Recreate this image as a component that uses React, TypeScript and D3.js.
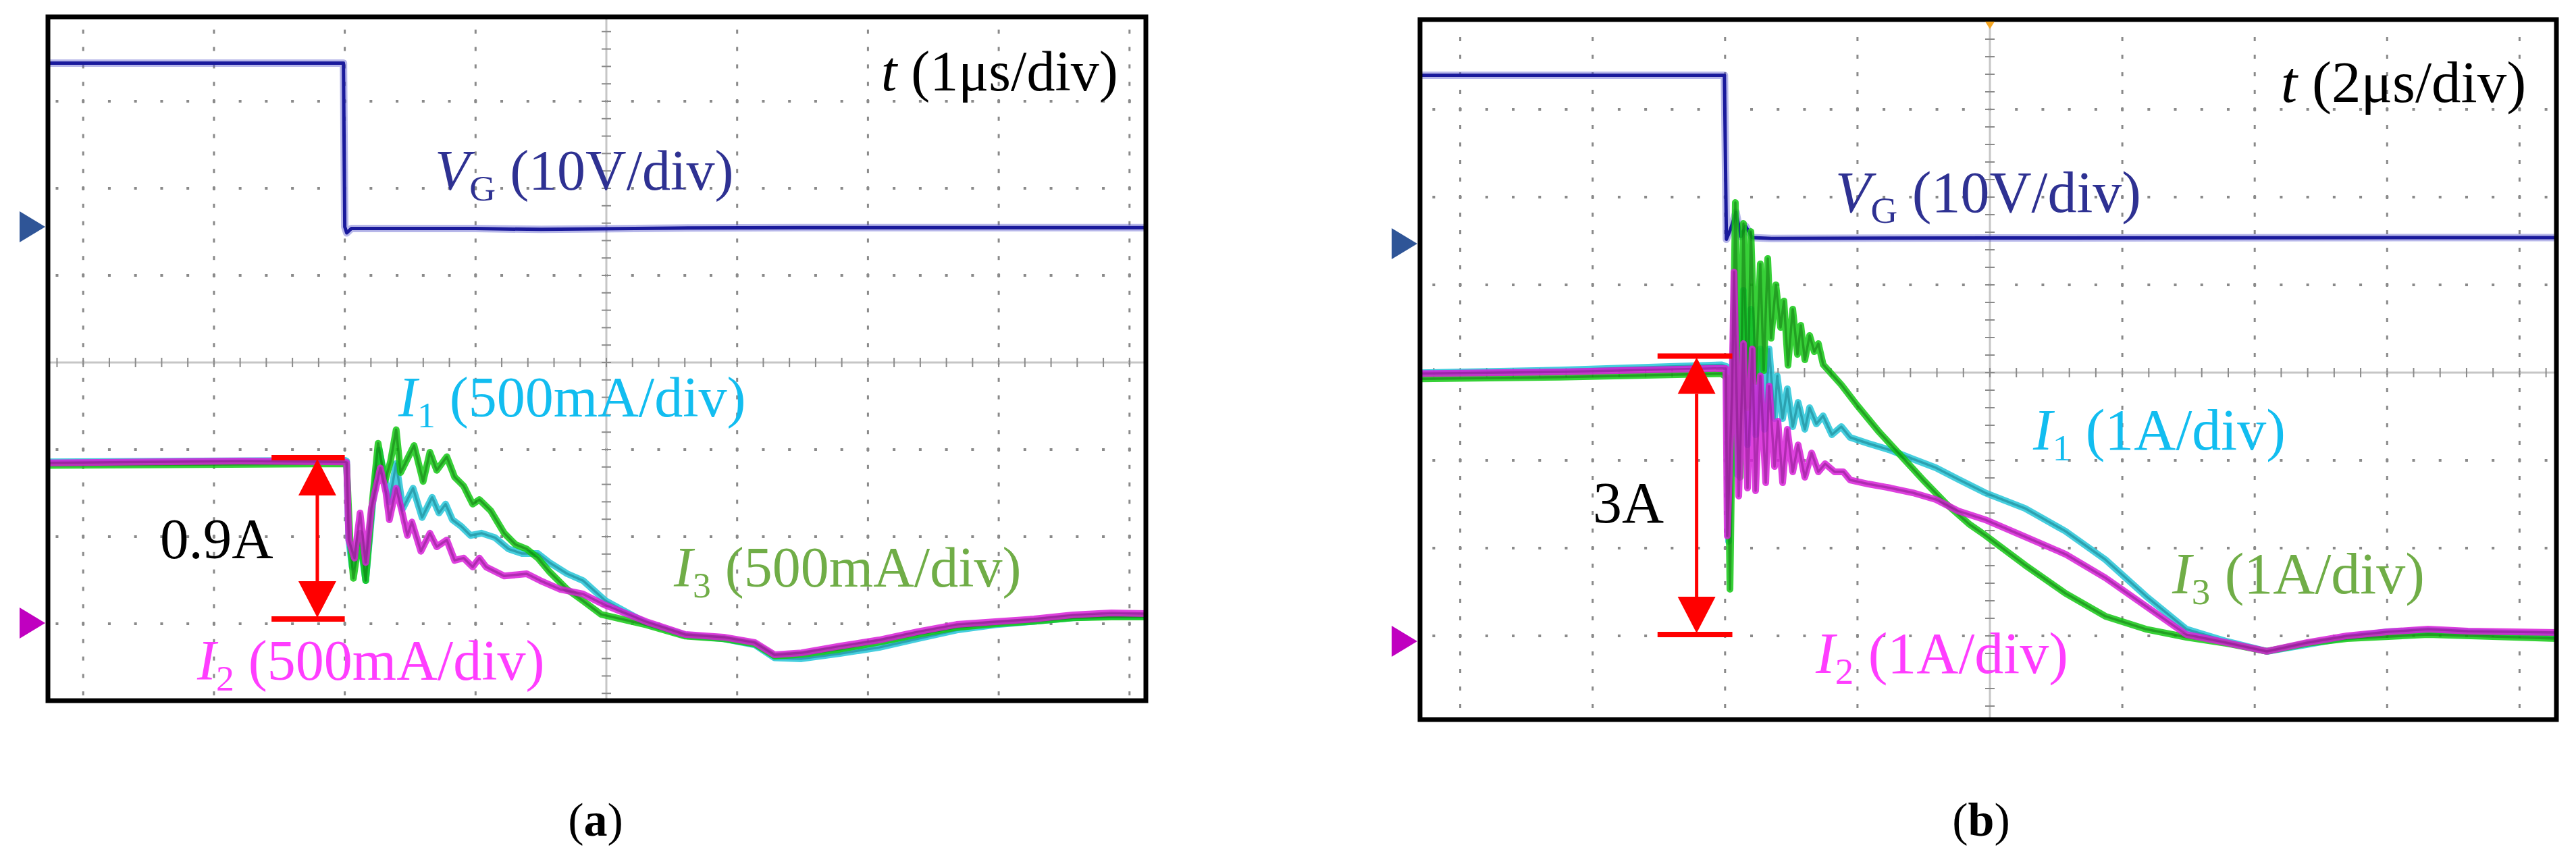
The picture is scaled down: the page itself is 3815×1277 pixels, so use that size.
import React from 'react';
import * as d3 from 'd3';

type Pt = [number, number];

// ---------- panel (a): t 1 µs/div, VG 10 V/div, I 500 mA/div ----------
// [time µs, volts]
const vgA: Pt[] = [
  [-4.27, 18.8], [-2.01, 18.8], [-2.0, 0], [-1.985, -0.7], [-1.95, -0.2],
  [-1.0, -0.2], [-0.5, -0.3], [0.5, -0.15], [1.5, -0.1], [4.13, -0.1],
];
// [time µs, amps]
const i1A: Pt[] = [
  [-4.27, 0.925], [-2.0, 0.935], [-1.986, 0.93], [-1.969, 0.477], [-1.943, 0.322],
  [-1.883, 0.477], [-1.84, 0.244], [-1.78, 0.736], [-1.736, 0.993], [-1.693, 0.826],
  [-1.659, 0.696], [-1.607, 0.916], [-1.556, 0.658], [-1.478, 0.774], [-1.409, 0.606],
  [-1.332, 0.722], [-1.28, 0.632], [-1.229, 0.683], [-1.177, 0.593], [-1.108, 0.554],
  [-1.039, 0.503], [-0.954, 0.516], [-0.85, 0.49], [-0.747, 0.425], [-0.644, 0.399],
  [-0.523, 0.399], [-0.437, 0.348], [-0.299, 0.283], [-0.179, 0.244], [-0.007, 0.128],
  [0.305, 0.0], [0.604, -0.07], [0.898, -0.09], [1.136, -0.125], [1.286, -0.2],
  [1.492, -0.205], [1.786, -0.175], [2.086, -0.14], [2.38, -0.09], [2.679, -0.04],
  [2.974, -0.01], [3.268, 0.01], [3.567, 0.03], [3.862, 0.04], [4.13, 0.04],
];
const i2A: Pt[] = [
  [-4.27, 0.92], [-3.5, 0.925], [-2.8, 0.93], [-2.0, 0.925], [-1.986, 0.922],
  [-1.969, 0.477], [-1.926, 0.373], [-1.883, 0.632], [-1.84, 0.348], [-1.797, 0.658],
  [-1.728, 0.89], [-1.685, 0.748], [-1.659, 0.593], [-1.607, 0.774], [-1.564, 0.645],
  [-1.521, 0.503], [-1.487, 0.58], [-1.418, 0.412], [-1.349, 0.516], [-1.297, 0.438],
  [-1.22, 0.477], [-1.16, 0.36], [-1.091, 0.373], [-1.022, 0.322], [-0.971, 0.373],
  [-0.919, 0.322], [-0.781, 0.27], [-0.609, 0.283], [-0.506, 0.244], [-0.351, 0.193],
  [-0.179, 0.167], [-0.007, 0.102], [0.305, 0.008], [0.604, -0.066], [0.898, -0.081],
  [1.136, -0.112], [1.286, -0.182], [1.492, -0.171], [1.786, -0.132], [2.086, -0.097],
  [2.38, -0.05], [2.679, -0.008], [2.974, 0.008], [3.268, 0.023], [3.567, 0.047],
  [3.862, 0.058], [4.13, 0.054],
];
const i3A: Pt[] = [
  [-4.27, 0.905], [-2.0, 0.915], [-1.986, 0.91], [-1.96, 0.477], [-1.934, 0.257],
  [-1.883, 0.516], [-1.84, 0.244], [-1.788, 0.709], [-1.745, 1.032], [-1.693, 0.813],
  [-1.65, 0.929], [-1.607, 1.11], [-1.573, 0.864], [-1.47, 1.019], [-1.401, 0.813],
  [-1.349, 0.981], [-1.297, 0.877], [-1.22, 0.955], [-1.16, 0.838], [-1.091, 0.787],
  [-1.057, 0.735], [-1.022, 0.683], [-0.971, 0.709], [-0.884, 0.645], [-0.781, 0.516],
  [-0.695, 0.451], [-0.609, 0.425], [-0.523, 0.373], [-0.437, 0.296], [-0.299, 0.193],
  [-0.179, 0.128], [-0.041, 0.05], [0.305, -0.01], [0.604, -0.075], [0.898, -0.09],
  [1.136, -0.12], [1.286, -0.19], [1.492, -0.18], [1.786, -0.15], [2.086, -0.11],
  [2.38, -0.065], [2.679, -0.025], [2.974, -0.005], [3.268, 0.01], [3.567, 0.03],
  [3.862, 0.035], [4.13, 0.035],
];
const stepA: Pt = [0.023, 0.95]; // measured current step, A

// ---------- panel (b): t 2 µs/div, VG 10 V/div, I 1 A/div ----------
const vgB: Pt[] = [
  [-8.61, 19.2], [-4.01, 19.2], [-3.98, 0.5], [-3.92, 1.6], [-3.835, 3.6], [-3.76, 0.8],
  [-3.69, 2.0], [-3.59, 0.7], [-3.3, 0.6], [0, 0.65], [8.56, 0.7],
];
const i1B: Pt[] = [
  [-8.61, 3.06], [-6.5, 3.09], [-4.05, 3.15], [-3.978, 3.131], [-3.947, 1.138],
  [-3.876, 3.392], [-3.815, 1.9], [-3.723, 4.0], [-3.661, 2.238], [-3.61, 3.785],
  [-3.539, 2.354], [-3.468, 3.331], [-3.406, 2.415], [-3.335, 3.331], [-3.253, 2.538],
  [-3.213, 3.023], [-3.131, 2.538], [-3.06, 2.877], [-2.978, 2.446], [-2.897, 2.723],
  [-2.795, 2.415], [-2.723, 2.662], [-2.621, 2.477], [-2.519, 2.569], [-2.387, 2.354],
  [-2.244, 2.446], [-2.111, 2.323], [-1.836, 2.254], [-1.499, 2.177], [-1.163, 2.077],
  [-0.816, 1.977], [-0.479, 1.846], [-0.071, 1.692], [0.53, 1.515], [1.142, 1.254],
  [1.744, 0.931], [2.356, 0.515], [2.968, 0.138], [3.57, 0.0], [4.182, -0.115],
  [4.794, -0.038], [5.395, 0.046], [6.007, 0.108], [6.619, 0.123], [7.221, 0.108],
  [7.833, 0.092], [8.56, 0.077],
];
const i2B: Pt[] = [
  [-8.61, 3.05], [-6.5, 3.07], [-4.05, 3.11], [-3.988, 3.108], [-3.967, 1.2],
  [-3.896, 2.815], [-3.865, 4.208], [-3.794, 1.654], [-3.723, 3.392], [-3.661, 1.746],
  [-3.59, 3.331], [-3.539, 1.715], [-3.468, 3.023], [-3.386, 1.808], [-3.335, 2.908],
  [-3.253, 1.992], [-3.202, 2.508], [-3.131, 1.808], [-3.06, 2.415], [-2.978, 1.931],
  [-2.897, 2.238], [-2.795, 1.869], [-2.693, 2.146], [-2.591, 1.931], [-2.489, 2.023],
  [-2.346, 1.931], [-2.213, 1.931], [-2.111, 1.838], [-1.836, 1.792], [-1.499, 1.746],
  [-1.163, 1.692], [-0.816, 1.615], [-0.479, 1.485], [-0.071, 1.385], [0.53, 1.192],
  [1.142, 0.992], [1.744, 0.723], [2.356, 0.4], [2.968, 0.077], [3.57, -0.015],
  [4.182, -0.115], [4.794, -0.015], [5.395, 0.062], [6.007, 0.108], [6.619, 0.138],
  [7.221, 0.115], [8.56, 0.1],
];
const i3B: Pt[] = [
  [-8.61, 2.99], [-6.5, 3.01], [-4.05, 3.05], [-3.967, 3.0], [-3.926, 0.592],
  [-3.845, 5.0], [-3.774, 1.869], [-3.723, 4.762], [-3.661, 2.662], [-3.61, 4.669],
  [-3.539, 2.962], [-3.468, 4.3], [-3.417, 3.085], [-3.356, 4.362], [-3.305, 3.454],
  [-3.233, 4.062], [-3.162, 3.577], [-3.111, 3.877], [-3.05, 3.146], [-2.978, 3.785],
  [-2.907, 3.269], [-2.856, 3.6], [-2.795, 3.208], [-2.723, 3.485], [-2.652, 3.3],
  [-2.591, 3.392], [-2.519, 3.154], [-2.244, 2.923], [-2.009, 2.692], [-1.673, 2.385],
  [-1.326, 2.1], [-0.989, 1.823], [-0.653, 1.562], [-0.306, 1.331], [-0.071, 1.208],
  [0.53, 0.869], [1.142, 0.546], [1.744, 0.285], [2.356, 0.138], [2.968, 0.046],
  [3.57, -0.023], [4.182, -0.115], [4.794, -0.023], [5.395, 0.031], [6.619, 0.077],
  [8.56, 0.031],
];
const stepB: Pt = [0.077, 3.25];

const FONT = "'Liberation Serif', 'Times New Roman', serif";
const C = {
  vg: '#1a1a9c', vgHalo: '#4b4bc8', vgLabel: '#2e3192', vMark: '#2f5597', iMark: '#c000c0',
  i1: '#26c6d8', i1Dark: '#0e6b78', i1Label: '#12bdf0',
  i2: '#d820d8', i2Dark: '#761478', i2Label: '#ff3dff',
  i3: '#14c814', i3Dark: '#0a640a', i3Label: '#70ad47',
  red: '#ff0000', grid: '#8a8a8a', center: '#c6c6c6',
};

type Label = { x: number; y: number; fs: number; color: string; main: string; sub?: string; rest: string };

const PANELS = [
  {
    key: 'a', caption: 'a', capX: 882,
    frame: { x0: 71, x1: 1697, y0: 25, y1: 1038, w: 7 },
    cx: 898, cy: 537, dx: 193.7, dy: 129,
    tDiv: 1, vDiv: 10, iDiv: 0.5, vZeroY: 336, iZeroY: 923,
    vg: vgA, i1: i1A, i2: i2A, i3: i3A, step: stepA,
    arrow: { tL: -2.56, tR: -2.0, tA: -2.21 }, trigger: false,
    labels: [
      { x: 1305, y: 134, fs: 84, color: '#000', main: 't', rest: ' (1\u03bcs/div)' },
      { x: 644, y: 281, fs: 84, color: C.vgLabel, main: 'V', sub: 'G', rest: ' (10V/div)' },
      { x: 590, y: 617, fs: 84, color: C.i1Label, main: 'I', sub: '1', rest: ' (500mA/div)' },
      { x: 292, y: 1007, fs: 84, color: C.i2Label, main: 'I', sub: '2', rest: ' (500mA/div)' },
      { x: 998, y: 869, fs: 84, color: C.i3Label, main: 'I', sub: '3', rest: ' (500mA/div)' },
      { x: 237, y: 827, fs: 85, color: '#000', main: '', rest: '0.9A' },
    ] as Label[],
  },
  {
    key: 'b', caption: 'b', capX: 2934,
    frame: { x0: 2103, x1: 3786, y0: 29, y1: 1066, w: 7 },
    cx: 2947, cy: 552, dx: 196.1, dy: 130,
    tDiv: 2, vDiv: 10, iDiv: 1, vZeroY: 361, iZeroY: 950,
    vg: vgB, i1: i1B, i2: i2B, i3: i3B, step: stepB,
    arrow: { tL: -5.02, tR: -3.89, tA: -4.43 }, trigger: true,
    labels: [
      { x: 3378, y: 151, fs: 87, color: '#000', main: 't', rest: ' (2\u03bcs/div)' },
      { x: 2718, y: 314, fs: 86, color: C.vgLabel, main: 'V', sub: 'G', rest: ' (10V/div)' },
      { x: 3011, y: 666, fs: 86, color: C.i1Label, main: 'I', sub: '1', rest: ' (1A/div)' },
      { x: 3217, y: 879, fs: 86, color: C.i3Label, main: 'I', sub: '3', rest: ' (1A/div)' },
      { x: 2689, y: 997, fs: 86, color: C.i2Label, main: 'I', sub: '2', rest: ' (1A/div)' },
      { x: 2359, y: 774, fs: 86, color: '#000', main: '', rest: '3A' },
    ] as Label[],
  },
];

function TextLabel({ l }: { l: Label }) {
  const off = l.fs * 0.19;
  return (
    <text x={l.x} y={l.y} fontSize={l.fs} fill={l.color} fontFamily={FONT} style={{ whiteSpace: 'pre' }}>
      {l.main && <tspan fontStyle="italic">{l.main}</tspan>}
      {l.sub && <tspan fontSize={l.fs * 0.64} dy={off}>{l.sub}</tspan>}
      <tspan fontSize={l.fs} dy={l.sub ? -off : 0}>{l.rest}</tspan>
    </text>
  );
}

function Panel({ p }: { p: (typeof PANELS)[number] }) {
  const { frame: f } = p;
  // graticule scales in divisions, signal scales in physical units
  const gx = d3.scaleLinear().domain([0, 1]).range([p.cx, p.cx + p.dx]);
  const gy = d3.scaleLinear().domain([0, 1]).range([p.cy, p.cy - p.dy]);
  const x = d3.scaleLinear().domain([0, p.tDiv]).range([p.cx, p.cx + p.dx]);
  const yV = d3.scaleLinear().domain([0, p.vDiv]).range([p.vZeroY, p.vZeroY - p.dy]);
  const yI = d3.scaleLinear().domain([0, p.iDiv]).range([p.iZeroY, p.iZeroY - p.dy]);

  const inX = (v: number) => v > f.x0 + 4 && v < f.x1 - 4;
  const inY = (v: number) => v > f.y0 + 3 && v < f.y1 - 3;
  const majX = d3.range(-6, 7).filter((k) => k !== 0 && inX(gx(k)));
  const majY = d3.range(-5, 6).filter((k) => k !== 0 && inY(gy(k)));
  const minX = d3.range(-30, 31).map((k) => k / 5).filter((k) => inX(gx(k)));
  const minY = d3.range(-25, 26).map((k) => k / 5).filter((k) => inY(gy(k)));

  const lineV = d3.line<Pt>().x((d) => x(d[0])).y((d) => yV(d[1]));
  const lineI = d3.line<Pt>().x((d) => x(d[0])).y((d) => yI(d[1]));
  const clip = `clip-${p.key}`;

  const yTop = yI(p.step[1]);
  const yBot = yI(p.step[0]);
  const xa = x(p.arrow.tA);
  const xl = x(p.arrow.tL);
  const xr = x(p.arrow.tR);
  const hl = 56;
  const hw = 28;

  const traces = [
    { d: p.i1, c: C.i1, dk: C.i1Dark },
    { d: p.i3, c: C.i3, dk: C.i3Dark },
    { d: p.i2, c: C.i2, dk: C.i2Dark },
  ];

  return (
    <g>
      <defs>
        <clipPath id={clip}>
          <rect x={f.x0} y={f.y0} width={f.x1 - f.x0} height={f.y1 - f.y0} />
        </clipPath>
      </defs>
      <g clipPath={`url(#${clip})`}>
        {/* dotted graticule */}
        {majX.map((k) =>
          minY.map((m) => (
            <rect key={`vx${k}_${m}`} x={gx(k) - 1.5} y={gy(m) - 3} width={3} height={6} fill={C.grid} />
          ))
        )}
        {majY.map((k) =>
          minX.map((m) => (
            <rect key={`hy${k}_${m}`} x={gx(m) - 2} y={gy(k) - 2} width={4} height={4} fill={C.grid} />
          ))
        )}
        {/* centre axes */}
        <line x1={f.x0} x2={f.x1} y1={gy(0)} y2={gy(0)} stroke={C.center} strokeWidth={3} />
        <line x1={gx(0)} x2={gx(0)} y1={f.y0} y2={f.y1} stroke={C.center} strokeWidth={3} />
        {minX.map((m) => (
          <line key={`tx${m}`} x1={gx(m)} x2={gx(m)} y1={gy(0) - 7} y2={gy(0) + 7} stroke={C.grid} strokeWidth={2} />
        ))}
        {minY.map((m) => (
          <line key={`ty${m}`} x1={gx(0) - 7} x2={gx(0) + 7} y1={gy(m)} y2={gy(m)} stroke={C.grid} strokeWidth={2} />
        ))}

        {/* traces */}
        <path d={lineV(p.vg) || ''} fill="none" stroke={C.vgHalo} strokeOpacity={0.4} strokeWidth={11} strokeLinejoin="round" />
        <path d={lineV(p.vg) || ''} fill="none" stroke={C.vg} strokeWidth={5} strokeLinejoin="round" />
        {traces.map((t, i) => (
          <g key={i}>
            <path d={lineI(t.d) || ''} fill="none" stroke={t.c} strokeOpacity={0.85} strokeWidth={10} strokeLinejoin="round" />
            <path d={lineI(t.d) || ''} fill="none" stroke={t.dk} strokeOpacity={0.45} strokeWidth={3.5} strokeLinejoin="round" />
          </g>
        ))}
      </g>

      {/* frame */}
      <rect x={f.x0} y={f.y0} width={f.x1 - f.x0} height={f.y1 - f.y0} fill="none" stroke="#000" strokeWidth={f.w} />

      {/* channel ground markers */}
      <polygon points={`${f.x0 - 42},${p.vZeroY - 23} ${f.x0 - 4},${p.vZeroY} ${f.x0 - 42},${p.vZeroY + 23}`} fill={C.vMark} />
      <polygon points={`${f.x0 - 42},${p.iZeroY - 23} ${f.x0 - 4},${p.iZeroY} ${f.x0 - 42},${p.iZeroY + 23}`} fill={C.iMark} />
      {p.trigger && (
        <polygon points={`${gx(0) - 7},${f.y0 + 3} ${gx(0) + 7},${f.y0 + 3} ${gx(0)},${f.y0 + 14}`} fill="#f5a623" />
      )}

      {/* step annotation */}
      <line x1={xl} x2={xr} y1={yTop} y2={yTop} stroke={C.red} strokeWidth={8} />
      <line x1={xl} x2={xr} y1={yBot} y2={yBot} stroke={C.red} strokeWidth={8} />
      <line x1={xa} x2={xa} y1={yTop + hl} y2={yBot - hl} stroke={C.red} strokeWidth={5} />
      <polygon points={`${xa},${yTop + 2} ${xa - hw},${yTop + hl} ${xa + hw},${yTop + hl}`} fill={C.red} />
      <polygon points={`${xa},${yBot - 2} ${xa - hw},${yBot - hl} ${xa + hw},${yBot - hl}`} fill={C.red} />

      {p.labels.map((l, i) => (
        <TextLabel key={i} l={l} />
      ))}

      <text x={p.capX} y={1238} fontSize={70} fontFamily={FONT} textAnchor="middle" fill="#000">
        (<tspan fontWeight="bold">{p.caption}</tspan>)
      </text>
    </g>
  );
}

export default function App() {
  return (
    <svg
      width={3815}
      height={1277}
      viewBox="0 0 3815 1277"
      style={{ position: 'absolute', left: 0, top: 0, background: '#fff' }}
    >
      <rect x={0} y={0} width={3815} height={1277} fill="#fff" />
      {PANELS.map((p) => (
        <Panel key={p.key} p={p} />
      ))}
    </svg>
  );
}
